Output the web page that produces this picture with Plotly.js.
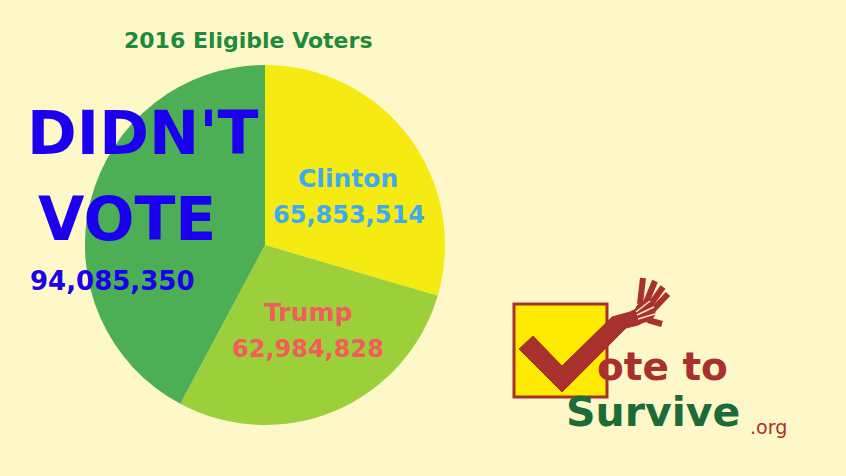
<!DOCTYPE html>
<html>
<head>
<meta charset="utf-8">
<script src="https://cdn.plot.ly/plotly-3.0.1.min.js"></script>
<style>html,body{margin:0;padding:0;background:#FEF7C8;}#chart{width:846px;height:476px;}</style>
</head>
<body>
<div id="chart"></div>
<script>
// ---- data ----
const labels = ["Clinton", "Trump", "Didn't vote"];
const values = [65853514, 62984828, 94085350];
const sliceColors = ["#F5EA12", "#9BD03B", "#4CAF55"];
const titleText = "2016 Eligible Voters";
const labelNames = ["Clinton", "Trump", "DIDN'T", "VOTE"];
const labelNumbers = ["65,853,514", "62,984,828", "94,085,350"];
const logoWords = ["ote to", "Survive", ".org"];

const W = 846, H = 476;
const px = (x) => x / W;
const py = (y) => 1 - y / H;
function path(pts, close) {
  return pts.map((p, i) => (i ? 'L' : 'M') + px(p[0]).toFixed(5) + ',' + py(p[1]).toFixed(5)).join(' ') + (close ? ' Z' : '');
}
const F = "DejaVu Sans, sans-serif";
const BG = "#FEF7C8";
const RED = "#A8302D";
const DGREEN = "#1C6B39";

const cx = 265, cy = 245, r = 180;

const trace = {
  type: 'pie',
  labels: labels,
  values: values,
  marker: {colors: sliceColors, line: {width: 0}},
  sort: false,
  direction: 'clockwise',
  rotation: 0,
  textinfo: 'none',
  hoverinfo: 'none',
  showlegend: false,
  domain: {x: [px(cx - r), px(cx + r)], y: [py(cy + r), py(cy - r)]}
};

function ann(text, x, y, size, color, extra, plain) {
  return Object.assign({
    text: plain ? text : '<b>' + text + '</b>', xref: 'paper', yref: 'paper',
    x: px(x), y: py(y), xanchor: 'center', yanchor: 'middle',
    showarrow: false, font: {family: F, size: size, color: color}
  }, extra || {});
}

const annotations = [
  ann(titleText, 248, 40, 22, "#1E8A3B"),
  ann(labelNames[0], 348, 178, 25, "#3DAAF2"),
  ann(labelNumbers[0], 349, 215, 24, "#3DAAF2"),
  ann(labelNames[1], 308, 312, 25, "#F25C5A"),
  ann(labelNumbers[1], 308, 349, 24, "#F25C5A"),
  ann(labelNames[2], 143, 133, 60, "#1A00EE"),
  ann(labelNames[3], 127, 219, 60, "#1A00EE"),
  ann(labelNumbers[2], 112, 281, 26, "#1A00EE"),
  // logo text
  ann(logoWords[0], 662, 366, 39, RED),
  ann(logoWords[1], 653, 412, 41, DGREEN),
  ann(logoWords[2], 748, 427, 19, RED, {xanchor: 'left'}, true)
];

const shapes = [
  // checkbox
  {type: 'rect', xref: 'paper', yref: 'paper', x0: px(514), x1: px(607), y0: py(397), y1: py(304),
   fillcolor: '#FFEB00', line: {color: RED, width: 3}, layer: 'above'},
  // checkmark + arm
  {type: 'path', xref: 'paper', yref: 'paper', layer: 'above',
   path: path([[519,349],[533,336],[562,366],[612,317],[630,312],[642,306],[652,318],[638,325],[626,328],[562,392]], true),
   fillcolor: RED, line: {color: RED, width: 1}},
  // palm
  {type: 'circle', xref: 'paper', yref: 'paper', layer: 'above',
   x0: px(635), x1: px(655), y0: py(322), y1: py(302), fillcolor: RED, line: {color: RED, width: 1}},
];
// fingers
const fingers = [[[640,304],[643,278]], [[645,305],[655,281]], [[648,308],[663,287]], [[651,312],[668,294]], [[648,320],[662,324]]];
fingers.forEach(f => shapes.push({type: 'path', xref: 'paper', yref: 'paper', layer: 'above',
  path: path(f, false), line: {color: RED, width: 6}}));
// small light hand inside
const lfingers = [[[636,312],[650,301]], [[637,315],[654,307]], [[638,319],[655,314]]];
lfingers.forEach(f => shapes.push({type: 'path', xref: 'paper', yref: 'paper', layer: 'above',
  path: path(f, false), line: {color: '#F4E6C8', width: 1.5}}));

const layout = {
  width: W, height: H,
  margin: {l: 0, r: 0, t: 0, b: 0},
  paper_bgcolor: BG, plot_bgcolor: BG,
  showlegend: false,
  annotations: annotations,
  shapes: shapes
};

Plotly.newPlot('chart', [trace], layout, {displayModeBar: false, staticPlot: true});
</script>
</body>
</html>
